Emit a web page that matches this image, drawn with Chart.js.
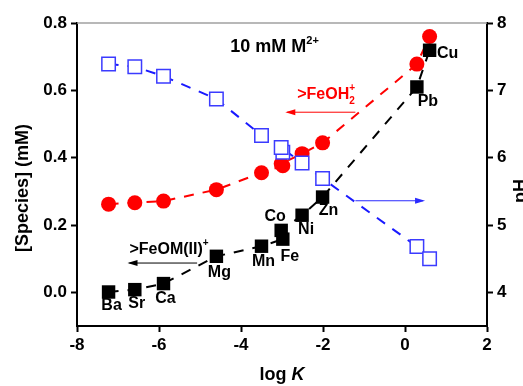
<!DOCTYPE html>
<html>
<head>
<script src="https://cdn.jsdelivr.net/npm/chart.js"></script>
<style>
    body { margin: 0; background: #fff; }
</style>
</head>
<body>
<canvas id="chart" width="523" height="386"></canvas>
<script>
    // metals in order of sorption constant
    var metals = ['Ba', 'Sr', 'Ca', 'Mg', 'Mn', 'Fe', 'Co', 'Ni', 'Zn', 'Pb', 'Cu'];
    var logK   = [-7.23, -6.59, -5.89, -4.60, -3.50, -2.98, -3.02, -2.51, -2.01, 0.29, 0.60];
    // >FeOM(II)+ and >FeOH2+ (mM, left axis), pH (right axis)
    var feOM   = [0.001, 0.008, 0.026, 0.107, 0.137, 0.158, 0.184, 0.229, 0.283, 0.610, 0.719];
    var feOH2  = [0.262, 0.266, 0.271, 0.305, 0.355, 0.376, 0.382, 0.412, 0.444, 0.678, 0.760];
    var pH     = [7.39, 7.35, 7.21, 6.87, 6.33, 6.08, 6.15, 5.92, 5.69, 4.68, 4.50];

    // label offsets (px) of metal names from the black squares
    var labelOffset = [[3,14],[2,14],[2,15],[3,16],[2,15],[7,17],[-6,-14],[4,14],[6,14],[11,15],[18,3]];

    function pts(ys) {
        return logK.map(function (x, i) { return { x: x, y: ys[i] }; });
    }

    var FONT = '"Liberation Sans", Arial, sans-serif';

    // draw a row of text pieces; each piece {t, size, dy, stack}
    function drawRuns(ctx, x, y, runs, color) {
        ctx.fillStyle = color;
        ctx.textBaseline = 'alphabetic';
        ctx.textAlign = 'left';
        var cx = x;
        runs.forEach(function (r) {
            ctx.font = (r.italic ? 'italic ' : '') + 'bold ' + r.size + 'px ' + FONT;
            ctx.fillText(r.t, cx, y + (r.dy || 0));
            if (!r.stack) cx += ctx.measureText(r.t).width;
        });
    }

    function arrow(ctx, x1, y1, x2, y2, color) {
        ctx.save();
        ctx.strokeStyle = color;
        ctx.fillStyle = color;
        ctx.lineWidth = 1;
        ctx.beginPath();
        ctx.moveTo(x1, y1);
        ctx.lineTo(x2, y2);
        ctx.stroke();
        var dir = x2 > x1 ? 1 : -1;
        ctx.beginPath();
        ctx.moveTo(x2 + dir * 2, y2);
        ctx.lineTo(x2 - dir * 8, y2 - 3);
        ctx.lineTo(x2 - dir * 8, y2 + 3);
        ctx.closePath();
        ctx.fill();
        ctx.restore();
    }

    var extras = {
        id: 'extras',
        afterDatasetsDraw: function (chart) {
            var ctx = chart.ctx, a = chart.chartArea;
            var sx = chart.scales.x, sy = chart.scales.y;
            ctx.save();

            // grey top frame line
            ctx.strokeStyle = '#a0a0a0';
            ctx.lineWidth = 1.5;
            ctx.beginPath();
            ctx.moveTo(a.left, a.top);
            ctx.lineTo(a.right, a.top);
            ctx.stroke();

            // metal names
            ctx.font = 'bold 16px ' + FONT;
            ctx.fillStyle = '#000';
            ctx.textAlign = 'center';
            ctx.textBaseline = 'middle';
            metals.forEach(function (m, i) {
                var px = sx.getPixelForValue(logK[i]);
                var py = sy.getPixelForValue(feOM[i]);
                ctx.fillText(m, px + labelOffset[i][0], py + labelOffset[i][1]);
            });

            // annotations
            drawRuns(ctx, sx.getPixelForValue(-4.26), sy.getPixelForValue(0.715), [
                { t: '10 mM M', size: 18 },
                { t: '2+', size: 11, dy: -8 }
            ], '#000');
            drawRuns(ctx, sx.getPixelForValue(-2.63), sy.getPixelForValue(0.575), [
                { t: '>FeOH', size: 16 },
                { t: '+', size: 10, dy: -8, stack: true },
                { t: '2', size: 10, dy: 5 }
            ], '#ff0000');
            drawRuns(ctx, sx.getPixelForValue(-6.72), sy.getPixelForValue(0.115), [
                { t: '>FeOM(II)', size: 16 },
                { t: '+', size: 10, dy: -8 }
            ], '#000');

            arrow(ctx, sx.getPixelForValue(-1.21), sy.getPixelForValue(0.535),
                  sx.getPixelForValue(-2.87), sy.getPixelForValue(0.535), '#ff0000');
            arrow(ctx, sx.getPixelForValue(-1.21), sy.getPixelForValue(0.272),
                  sx.getPixelForValue(0.44), sy.getPixelForValue(0.272), '#2a2aff');
            arrow(ctx, sx.getPixelForValue(-5.07), sy.getPixelForValue(0.087),
                  sx.getPixelForValue(-6.72), sy.getPixelForValue(0.087), '#000');

            // axis titles
            ctx.fillStyle = '#000';
            ctx.font = 'bold 18px ' + FONT;
            ctx.textAlign = 'center';
            ctx.textBaseline = 'middle';
            ctx.save();
            ctx.translate(23, 188);
            ctx.rotate(-Math.PI / 2);
            ctx.fillText('[Species] (mM)', 0, 0);
            ctx.restore();
            ctx.save();
            ctx.translate(521, 191);
            ctx.rotate(-Math.PI / 2);
            ctx.fillText('pH', 0, 0);
            ctx.restore();

            ctx.font = 'bold 18px ' + FONT;
            var w1 = ctx.measureText('log ').width;
            ctx.font = 'italic bold 18px ' + FONT;
            var w2 = ctx.measureText('K').width;
            var x0 = (a.left + a.right) / 2 - (w1 + w2) / 2;
            drawRuns(ctx, x0, 380, [{ t: 'log ', size: 18 }, { t: 'K', size: 18, italic: true }], '#000');

            ctx.restore();
        }
    };

    var tickFont = { family: FONT, size: 17, weight: 'bold' };
    var gridOpts = { drawOnChartArea: false, color: '#000', tickLength: 6, tickWidth: 2 };
    var borderOpts = { color: '#000', width: 2 };

    new Chart(document.getElementById('chart'), {
        type: 'scatter',
        data: {
            datasets: [{
                label: '>FeOM(II)+',
                data: pts(feOM),
                yAxisID: 'y',
                showLine: true,
                borderColor: '#000',
                borderWidth: 2,
                borderDash: [10, 9],
                pointStyle: 'rect',
                pointRadius: 9.5,
                pointBackgroundColor: '#000',
                pointBorderColor: '#000',
                pointBorderWidth: 0
            }, {
                label: 'pH',
                data: pts(pH),
                yAxisID: 'y2',
                showLine: true,
                borderColor: '#1a1aff',
                borderWidth: 2,
                borderDash: [10, 9],
                pointStyle: 'rect',
                pointRadius: 9.5,
                pointBackgroundColor: '#ffffff',
                pointBorderColor: '#3b3bff',
                pointBorderWidth: 1.5
            }, {
                label: '>FeOH2+',
                data: pts(feOH2),
                yAxisID: 'y',
                showLine: true,
                borderColor: '#ff0000',
                borderWidth: 2,
                borderDash: [10, 9],
                pointStyle: 'circle',
                pointRadius: 7.5,
                pointBackgroundColor: '#ff0000',
                pointBorderColor: '#ff0000',
                pointBorderWidth: 0
            }]
        },
        options: {
            responsive: false,
            animation: false,
            layout: { padding: { top: 23, left: 0, right: 0, bottom: 0 } },
            plugins: { legend: { display: false }, tooltip: { enabled: false } },
            scales: {
                x: {
                    type: 'linear',
                    min: -8, max: 2,
                    ticks: { stepSize: 2, font: tickFont, color: '#000', padding: 3 },
                    grid: gridOpts,
                    border: borderOpts,
                    afterFit: function (s) { s.height = 60; }
                },
                y: {
                    position: 'left',
                    min: -0.1, max: 0.8,
                    ticks: {
                        stepSize: 0.2, includeBounds: false, font: tickFont, color: '#000', padding: 4,
                        callback: function (v) { return v.toFixed(1); }
                    },
                    grid: gridOpts,
                    border: borderOpts,
                    afterFit: function (s) { s.width = 77; }
                },
                y2: {
                    position: 'right',
                    min: 3.5, max: 8,
                    ticks: { stepSize: 1, includeBounds: false, font: tickFont, color: '#000', padding: 4 },
                    grid: gridOpts,
                    border: borderOpts,
                    afterFit: function (s) { s.width = 36; }
                }
            }
        },
        plugins: [extras]
    });
</script>
</body>
</html>
